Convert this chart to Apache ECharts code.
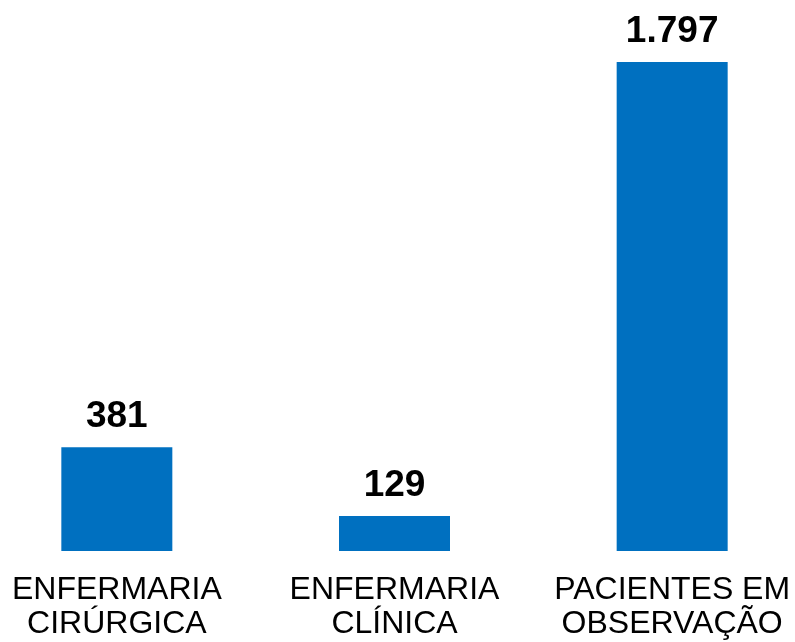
<!DOCTYPE html>
<html>
<head>
<meta charset="utf-8">
<script src="https://cdn.jsdelivr.net/npm/echarts@6/dist/echarts.min.js"></script>
<style>
  html, body { margin: 0; padding: 0; background: #fff; }
  #chart { width: 795px; height: 642px; }
</style>
</head>
<body>
<div id="chart"></div>
<script>
// categorias e valores
var categories = ['ENFERMARIA\nCIRÚRGICA', 'ENFERMARIA\nCLÍNICA', 'PACIENTES EM\nOBSERVAÇÃO'];
var values = [381, 129, 1797];

// separador de milhar no padrão brasileiro
function fmt(v) {
    return String(v).replace(/\B(?=(\d{3})+(?!\d))/g, '.');
}

var chart = echarts.init(document.getElementById('chart'));
chart.setOption({
    animation: false,
    grid: {
        left: -22,
        width: 833,
        top: 62,
        bottom: 91,
        containLabel: false,
        outerBoundsMode: 'none'
    },
    xAxis: {
        type: 'category',
        data: categories,
        axisLine: { show: false },
        axisTick: { show: false },
        axisLabel: {
            interval: 0,
            margin: 22,
            color: '#000',
            fontFamily: 'Liberation Sans, Arial, sans-serif',
            fontSize: 32,
            lineHeight: 34,
            hideOverlap: false
        }
    },
    yAxis: {
        type: 'value',
        min: 0,
        max: 1797,
        show: false,
        splitLine: { show: false }
    },
    series: [{
        type: 'bar',
        data: values,
        barWidth: 111,
        itemStyle: { color: '#0070C0' },
        label: {
            show: true,
            position: 'top',
            distance: 12,
            color: '#000',
            fontWeight: 'bold',
            fontFamily: 'Liberation Sans, Arial, sans-serif',
            fontSize: 37,
            formatter: function (p) { return fmt(p.value); }
        }
    }]
});
</script>
</body>
</html>
